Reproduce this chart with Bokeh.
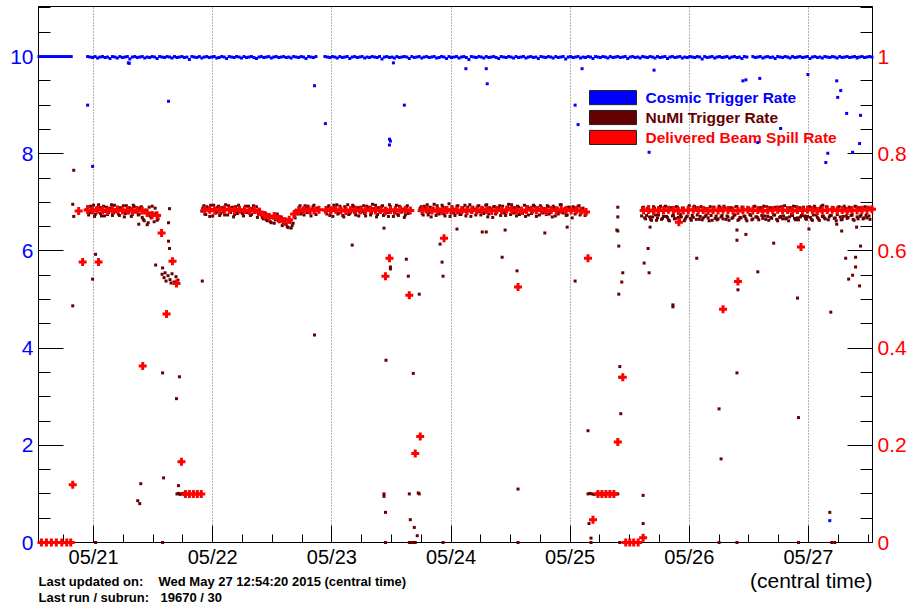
import pandas as pd
from bokeh.plotting import figure
from bokeh.layouts import column
from bokeh.models import (ColumnDataSource, Range1d, LinearAxis, FixedTicker,
                          DatetimeTickFormatter, Label, BoxAnnotation)
from bokeh.embed import file_html
from bokeh.resources import INLINE

DAY0 = pd.Timestamp("2015-05-20 00:00:00")
WINDOW_END = pd.Timestamp("2015-05-27 12:54:20")
WINDOW_START = WINDOW_END - pd.Timedelta(days=7)

# ---------------- Cosmic trigger rate [Hz] (left axis) ----------------
# continuous stretches, one reading every 0.5 h; start given in hours after 05/20 00:00
cosmic_step = 0.5
cosmic_starts = [13.0, 22.8, 70.6, 156.8]
cosmic_seg1 = [10.0, 10.0, 10.0, 10.0, 10.0, 10.0, 10.0, 10.0, 10.0, 10.0, 10.0, 10.0, 10.0, 10.0]
cosmic_seg2 = [
    10.0, 9.99, 9.98, 10.0, 9.97, 9.99, 10.0, 9.98, 9.99, 9.96,
    10.0, 9.99, 9.97, 10.0, 9.98, 9.99, 10.0, 9.95, 9.99, 10.0,
    9.98, 9.99, 10.0, 9.97, 9.99, 9.98, 10.0, 9.99, 9.96, 10.0,
    9.99, 9.98, 10.0, 9.99, 9.97, 10.0, 9.98, 9.99, 10.0, 9.98,
    9.99, 9.94, 10.0, 9.99, 9.98, 10.0, 9.97, 9.99, 10.0, 9.98,
    9.99, 10.0, 9.97, 9.98, 10.0, 9.99, 9.96, 10.0, 9.99, 9.98,
    10.0, 9.99, 9.97, 10.0, 9.98, 9.99, 10.0, 9.98, 9.96, 9.99,
    10.0, 9.98, 9.99, 10.0, 9.97, 9.99, 10.0, 9.98, 9.99, 10.0,
    9.98, 9.99, 9.97, 10.0, 9.99, 9.98, 10.0, 9.99, 9.96, 10.0,
    9.99, 9.98, 10.0]
cosmic_seg3 = [
    10.0, 9.99, 9.98, 10.0, 9.99, 9.97, 10.0, 9.98, 9.99, 10.0,
    9.96, 9.99, 10.0, 9.98, 9.99, 10.0, 9.97, 9.99, 9.98, 10.0,
    9.99, 9.98, 10.0, 9.95, 9.99, 10.0, 9.98, 9.99, 9.97, 10.0,
    9.98, 9.99, 10.0, 9.99, 9.96, 10.0, 9.98, 9.99, 10.0, 9.97,
    9.99, 10.0, 9.98, 9.99, 10.0, 9.97, 9.98, 10.0, 9.99, 9.96,
    10.0, 9.98, 9.99, 10.0, 9.97, 9.99, 10.0, 9.98, 9.94, 10.0,
    9.99, 9.98, 10.0, 9.99, 9.97, 10.0, 9.98, 9.99, 10.0, 9.98,
    9.96, 10.0, 9.99, 9.98, 10.0, 9.99, 9.97, 10.0, 9.98, 9.99,
    10.0, 9.97, 9.99, 10.0, 9.98, 9.99, 9.96, 10.0, 9.99, 9.98,
    10.0, 9.99, 9.97, 10.0, 9.98, 9.99, 10.0, 9.95, 9.99, 10.0,
    9.98, 9.99, 10.0, 9.97, 9.99, 9.98, 10.0, 9.99, 9.96, 10.0,
    9.99, 9.98, 10.0, 9.99, 9.97, 10.0, 9.98, 9.99, 10.0, 9.98,
    9.99, 10.0, 9.96, 9.99, 10.0, 9.98, 9.99, 9.97, 10.0, 9.99,
    9.98, 10.0, 9.99, 9.97, 10.0, 9.98, 9.99, 10.0, 9.96, 9.99,
    10.0, 9.98, 9.99, 10.0, 9.97, 9.99, 9.98, 10.0, 9.99, 9.98,
    10.0, 9.99, 9.95, 10.0, 9.98, 9.99, 10.0, 9.97, 9.99, 10.0,
    9.98, 9.99, 10.0, 9.97, 9.99, 10.0, 9.98, 9.99, 9.96, 10.0,
    9.99]
cosmic_seg4 = [
    10.0, 9.98, 9.99, 10.0, 9.97, 9.99, 10.0, 9.98, 9.99, 9.96,
    10.0, 9.99, 9.98, 10.0, 9.99, 9.97, 10.0, 9.98, 9.99, 10.0,
    9.98, 9.99, 10.0, 9.96, 9.99, 10.0, 9.98, 9.99, 9.97, 10.0,
    9.99, 9.98, 10.0, 9.99, 9.97, 10.0, 9.98, 9.99, 10.0, 9.98,
    9.99, 10.0, 9.97, 9.99, 10.0, 9.98, 9.99, 10.0, 9.99]
# isolated low readings (hour after 05/20 00:00, rate)
cosmic_out_h = [22.8, 23.8, 31.0, 31.2, 39.1, 68.5, 70.7, 84.4, 86.6, 83.6,
                83.8, 83.6, 99.0, 103.1, 103.3, 121.0, 121.6, 122.4, 135.9, 136.9,
                154.8, 155.4, 158.2, 167.9, 157.8, 162.4, 173.7, 173.9, 174.5, 175.7,
                178.5, 171.5, 171.9, 176.9, 178.3, 172.3]
cosmic_out_v = [9.0, 7.74, 9.87, 9.86, 9.08, 9.4, 8.62, 9.87, 9.0, 8.3,
                8.26, 8.18, 9.75, 9.75, 9.44, 9.0, 8.6, 9.75, 8.03, 9.72,
                9.5, 9.52, 9.55, 9.63, 8.23, 8.52, 9.5, 9.16, 9.3, 8.83,
                8.79, 7.82, 8.01, 8.03, 8.21, 0.45]

# ---------------- NuMI trigger rate [Hz] (right axis) ----------------
# two interleaved series of readings per stretch, 0.4 h apart each, offset by 0.2 h
numi_step = 0.4
numi_offset = 0.2
numi_starts = [22.6, 45.8, 70.6, 89.6, 134.4]
numi_seg1 = [
    0.685, 0.674, 0.692, 0.680, 0.671, 0.688, 0.695, 0.677, 0.683, 0.672,
    0.690, 0.679, 0.686, 0.673, 0.694, 0.681, 0.676, 0.689, 0.684, 0.670,
    0.693, 0.678, 0.687, 0.675, 0.691, 0.682, 0.674, 0.688, 0.669, 0.662,
    0.684, 0.658, 0.672, 0.692, 0.660, 0.678, 0.666]
numi_seg1b = [
    0.691, 0.679, 0.687, 0.694, 0.676, 0.683, 0.689, 0.672, 0.692, 0.681,
    0.675, 0.688, 0.695, 0.678, 0.684, 0.690, 0.673, 0.686, 0.693, 0.677,
    0.682, 0.689, 0.671, 0.694, 0.680, 0.687, 0.676, 0.691, 0.665, 0.684,
    0.654, 0.690, 0.668, 0.676, 0.688, 0.663]
numi_seg2 = [
    0.682, 0.693, 0.675, 0.688, 0.671, 0.685, 0.694, 0.678, 0.690, 0.673,
    0.686, 0.680, 0.695, 0.674, 0.689, 0.683, 0.670, 0.691, 0.677, 0.687,
    0.684, 0.672, 0.692, 0.679, 0.688, 0.675, 0.693, 0.681, 0.669, 0.686,
    0.674, 0.666, 0.678, 0.662, 0.671, 0.658, 0.668, 0.664, 0.676, 0.660,
    0.670, 0.655, 0.666, 0.650, 0.661, 0.647, 0.657, 0.668, 0.680, 0.690,
    0.676, 0.687, 0.693, 0.679, 0.684, 0.672, 0.691, 0.682, 0.688]
numi_seg2b = [
    0.688, 0.676, 0.691, 0.683, 0.694, 0.672, 0.687, 0.680, 0.692, 0.677,
    0.689, 0.674, 0.685, 0.693, 0.679, 0.690, 0.675, 0.686, 0.694, 0.681,
    0.677, 0.689, 0.683, 0.692, 0.673, 0.687, 0.680, 0.691, 0.676, 0.679,
    0.669, 0.673, 0.664, 0.675, 0.660, 0.669, 0.657, 0.672, 0.663, 0.667,
    0.652, 0.663, 0.655, 0.648, 0.659, 0.652, 0.671, 0.684, 0.676, 0.693,
    0.681, 0.674, 0.688, 0.692, 0.678, 0.686, 0.694, 0.675]
numi_seg3 = [
    0.684, 0.676, 0.693, 0.680, 0.671, 0.689, 0.695, 0.678, 0.686, 0.673,
    0.691, 0.682, 0.675, 0.688, 0.694, 0.679, 0.685, 0.672, 0.690, 0.681,
    0.677, 0.692, 0.687, 0.674, 0.696, 0.683, 0.670, 0.689, 0.680, 0.693,
    0.676, 0.686, 0.671, 0.691, 0.684, 0.678, 0.694, 0.673, 0.688, 0.682,
    0.669, 0.690, 0.677, 0.685]
numi_seg3b = [
    0.679, 0.690, 0.673, 0.687, 0.694, 0.681, 0.676, 0.692, 0.684, 0.670,
    0.688, 0.695, 0.677, 0.683, 0.691, 0.674, 0.689, 0.680, 0.686, 0.693,
    0.672, 0.684, 0.690, 0.678, 0.687, 0.694, 0.675, 0.682, 0.691, 0.673,
    0.688, 0.679, 0.695, 0.683, 0.671, 0.689, 0.676, 0.692, 0.680, 0.686,
    0.674, 0.693, 0.681]
numi_seg4 = [
    0.683, 0.691, 0.674, 0.687, 0.695, 0.679, 0.670, 0.688, 0.682, 0.693,
    0.676, 0.685, 0.690, 0.672, 0.684, 0.697, 0.678, 0.686, 0.673, 0.692,
    0.681, 0.675, 0.689, 0.694, 0.677, 0.683, 0.671, 0.690, 0.686, 0.679,
    0.693, 0.674, 0.688, 0.682, 0.695, 0.676, 0.684, 0.669, 0.691, 0.680,
    0.687, 0.673, 0.692, 0.678, 0.685, 0.696, 0.675, 0.683, 0.689, 0.672,
    0.690, 0.681, 0.677, 0.694, 0.686, 0.674, 0.688, 0.680, 0.692, 0.671,
    0.685, 0.693, 0.678, 0.687, 0.675, 0.691, 0.682, 0.670, 0.689, 0.684,
    0.676, 0.695, 0.680, 0.686, 0.673, 0.690, 0.683, 0.668, 0.688, 0.679,
    0.692, 0.674, 0.685, 0.681, 0.677]
numi_seg4b = [
    0.688, 0.677, 0.692, 0.681, 0.674, 0.690, 0.685, 0.696, 0.673, 0.687,
    0.680, 0.694, 0.676, 0.689, 0.683, 0.671, 0.691, 0.678, 0.686, 0.693,
    0.675, 0.688, 0.682, 0.672, 0.690, 0.695, 0.679, 0.684, 0.674, 0.692,
    0.681, 0.687, 0.677, 0.694, 0.670, 0.689, 0.683, 0.691, 0.676, 0.686,
    0.693, 0.679, 0.682, 0.673, 0.690, 0.687, 0.695, 0.678, 0.684, 0.692,
    0.675, 0.688, 0.681, 0.671, 0.691, 0.685, 0.677, 0.694, 0.683, 0.689,
    0.674, 0.690, 0.679, 0.686, 0.693, 0.676, 0.684, 0.692, 0.672, 0.688,
    0.681, 0.695, 0.678, 0.687, 0.674, 0.690, 0.683, 0.691, 0.676, 0.685,
    0.693, 0.680, 0.688, 0.673]
numi_seg5 = [
    0.672, 0.690, 0.666, 0.688, 0.670, 0.663, 0.691, 0.674, 0.668, 0.689,
    0.665, 0.671, 0.692, 0.669, 0.662, 0.687, 0.673, 0.667, 0.690, 0.664,
    0.670, 0.688, 0.666, 0.672, 0.693, 0.663, 0.669, 0.689, 0.674, 0.665,
    0.691, 0.668, 0.671, 0.687, 0.662, 0.673, 0.690, 0.667, 0.664, 0.692,
    0.670, 0.666, 0.688, 0.672, 0.663, 0.689, 0.669, 0.674, 0.691, 0.665,
    0.668, 0.690, 0.671, 0.662, 0.687, 0.673, 0.666, 0.692, 0.670, 0.664,
    0.689, 0.667, 0.672, 0.691, 0.663, 0.669, 0.688, 0.674, 0.665, 0.690,
    0.671, 0.666, 0.693, 0.668, 0.662, 0.689, 0.673, 0.667, 0.691, 0.664,
    0.670, 0.687, 0.672, 0.665, 0.690, 0.669, 0.663, 0.692, 0.674, 0.666,
    0.688, 0.671, 0.668, 0.691, 0.664, 0.673, 0.689, 0.667, 0.662, 0.690,
    0.670, 0.665, 0.692, 0.672, 0.669, 0.688, 0.674, 0.663, 0.691, 0.666,
    0.671, 0.689, 0.668, 0.673, 0.690, 0.665, 0.687]
numi_seg5b = [
    0.689, 0.668, 0.673, 0.691, 0.665, 0.670, 0.688, 0.663, 0.674, 0.692,
    0.667, 0.690, 0.671, 0.664, 0.689, 0.672, 0.666, 0.691, 0.669, 0.675,
    0.688, 0.662, 0.670, 0.690, 0.667, 0.673, 0.692, 0.665, 0.689, 0.671,
    0.664, 0.688, 0.674, 0.668, 0.691, 0.663, 0.690, 0.672, 0.666, 0.689,
    0.673, 0.692, 0.665, 0.670, 0.688, 0.667, 0.674, 0.691, 0.663, 0.669,
    0.690, 0.672, 0.666, 0.689, 0.675, 0.664, 0.691, 0.670, 0.668, 0.688,
    0.673, 0.692, 0.665, 0.671, 0.689, 0.667, 0.674, 0.690, 0.662, 0.669,
    0.691, 0.672, 0.666, 0.688, 0.670, 0.675, 0.692, 0.664, 0.668, 0.689,
    0.673, 0.690, 0.667, 0.671, 0.691, 0.665, 0.674, 0.688, 0.669, 0.663,
    0.692, 0.672, 0.666, 0.690, 0.670, 0.673, 0.689, 0.668, 0.675, 0.691,
    0.664, 0.671, 0.688, 0.667, 0.690, 0.673, 0.665, 0.692, 0.670, 0.689,
    0.674, 0.666, 0.691, 0.668, 0.672, 0.688]
numi_out_h = [
    20.0, 19.8, 20.0, 19.8, 33.1, 36.5, 37.9, 39.1, 39.3, 39.1, 39.3,
    24.4, 23.8, 45.9, 33.5, 32.9, 33.3, 37.9, 38.1, 40.7, 41.3, 41.1, 24.4, 37.9,
    37.8, 38.2, 38.6, 39.0, 39.4, 39.8, 40.2, 40.6, 41.0, 38.4, 39.6,
    40.8, 41.1, 41.4, 41.7, 42.0, 42.3, 42.6, 43.0,
    68.5, 82.5, 76.1, 83.8, 83.8, 87.0, 87.4, 89.6,
    93.8, 94.2, 94.4, 97.2, 102.3, 103.1, 106.3, 106.9, 109.3, 114.9, 119.4, 121.0,
    129.6, 129.8, 129.8, 129.6, 129.6, 129.4, 130.6, 130.4,
    136.1, 135.7, 134.9, 135.9, 145.5, 153.6, 153.6, 155.4, 153.8, 157.8, 161.0,
    165.8, 168.1, 170.9, 174.7, 173.7, 175.5, 177.5, 177.5, 176.9, 176.1, 178.3,
    178.5, 177.7,
    82.9, 88.4, 82.5, 82.5, 82.8, 82.8, 87.6, 87.8, 88.6, 89.2, 89.4, 89.6,
    87.6, 88.0, 88.4, 88.8, 94.4, 109.5, 109.5,
    123.6, 123.8, 124.2, 124.2, 130.0, 130.0, 130.2,
    123.6, 124.0, 124.4, 124.8, 125.2, 125.6, 126.0, 126.4, 126.8, 127.2, 127.6,
    128.0, 128.4, 128.8, 129.2, 129.6,
    140.7, 140.7, 134.7, 134.7, 172.5, 153.6, 150.0, 150.4, 166.0, 172.3,
    130.0, 150.0, 153.6, 166.0, 172.7, 173.3]
numi_out_v = [
    0.766, 0.696, 0.671, 0.487, 0.655, 0.571, 0.565, 0.620, 0.605, 0.658, 0.687,
    0.593, 0.542, 0.538, 0.121, 0.086, 0.080, 0.349, 0.133, 0.296, 0.341, 0.117, 0.0, 0.0,
    0.552, 0.545, 0.538, 0.549, 0.541, 0.553, 0.536, 0.547, 0.540, 0.555, 0.534,
    0.100, 0.101, 0.099, 0.100, 0.101, 0.099, 0.100, 0.100,
    0.427, 0.647, 0.612, 0.567, 0.563, 0.583, 0.548, 0.511,
    0.614, 0.577, 0.548, 0.645, 0.639, 0.639, 0.587, 0.643, 0.559, 0.637, 0.649, 0.538,
    0.641, 0.610, 0.511, 0.690, 0.670, 0.643, 0.555, 0.536,
    0.649, 0.605, 0.575, 0.555, 0.585, 0.643, 0.622, 0.634, 0.520, 0.557, 0.616,
    0.503, 0.645, 0.694, 0.641, 0.655, 0.585, 0.587, 0.567, 0.550, 0.542, 0.528,
    0.610, 0.649,
    0.375, 0.348, 0.100, 0.095, 0.062, 0.0, 0.100, 0.047, 0.031, 0.014, 0.102, 0.100,
    0.0, 0.0, 0.0, 0.0, 0.0, 0.110, 0.0,
    0.230, 0.039, 0.009, 0.0, 0.362, 0.340, 0.265,
    0.100, 0.101, 0.100, 0.099, 0.100, 0.101, 0.100, 0.100, 0.099, 0.100, 0.101,
    0.100, 0.100, 0.099, 0.100, 0.100,
    0.489, 0.485, 0.097, 0.039, 0.474, 0.349, 0.275, 0.172, 0.257, 0.062,
    0.0, 0.0, 0.0, 0.0, 0.0, 0.0]

# ---------------- Delivered beam spill rate [Hz] (right axis) ----------------
spill_step = 1.0
spill_starts = [22.8, 46.4, 70.8, 90.2, 134.8]
spill_seg1 = [0.684, 0.683, 0.685, 0.684, 0.682, 0.684, 0.685, 0.683, 0.684, 0.682,
              0.684, 0.683, 0.678, 0.674, 0.673]
spill_seg2 = [0.684, 0.685, 0.683, 0.684, 0.686, 0.684, 0.683, 0.685, 0.684, 0.682,
              0.684, 0.680, 0.674, 0.670, 0.672, 0.666, 0.661, 0.664, 0.676, 0.683,
              0.685, 0.684, 0.683, 0.685]
spill_seg3 = [0.684, 0.683, 0.685, 0.684, 0.682, 0.684, 0.685, 0.683, 0.684, 0.685,
              0.683, 0.684, 0.682, 0.684, 0.683, 0.685, 0.684, 0.683]
spill_seg4 = [0.684, 0.685, 0.683, 0.684, 0.682, 0.684, 0.685, 0.683, 0.684, 0.682,
              0.684, 0.683, 0.685, 0.684, 0.682, 0.684, 0.683, 0.685, 0.684, 0.683,
              0.682, 0.684, 0.685, 0.683, 0.684, 0.682, 0.684, 0.683, 0.685, 0.684,
              0.683, 0.684, 0.682, 0.680]
spill_seg5 = [0.683, 0.684, 0.682, 0.684, 0.683, 0.685, 0.684, 0.682, 0.683, 0.684,
              0.685, 0.683, 0.684, 0.682, 0.684, 0.683, 0.685, 0.684, 0.683, 0.682,
              0.684, 0.685, 0.683, 0.684, 0.682, 0.683, 0.684, 0.685, 0.683, 0.684,
              0.682, 0.684, 0.683, 0.685, 0.684, 0.682, 0.683, 0.684, 0.685, 0.683,
              0.684, 0.682, 0.684, 0.683, 0.685, 0.684, 0.686]
spill_out_h = [13.5, 14.5, 15.5, 16.5, 17.6, 18.6, 19.4,
               19.8, 21.8, 25.0, 21.0, 33.9, 37.7, 38.7, 39.9, 40.7, 41.7,
               42.5, 43.3, 44.1, 44.9, 45.7,
               94.6, 83.6, 82.8, 87.6, 109.5, 123.6, 141.9, 166.5, 153.8, 150.8,
               89.8, 88.8, 124.6, 129.6, 130.6,
               125.6, 126.4, 127.2, 128.0, 128.8,
               131.2, 132.0, 132.8, 133.7, 134.7]
spill_out_v = [0.0, 0.0, 0.0, 0.0, 0.0, 0.0, 0.0,
               0.119, 0.577, 0.577, 0.682, 0.363, 0.637, 0.470, 0.579, 0.533, 0.166,
               0.100, 0.100, 0.100, 0.100, 0.100,
               0.626, 0.585, 0.548, 0.509, 0.526, 0.585, 0.659, 0.608, 0.537, 0.480,
               0.218, 0.183, 0.047, 0.207, 0.340,
               0.100, 0.100, 0.100, 0.100, 0.100,
               0.0, 0.0, 0.0, 0.0, 0.010]

day_ticks = ["2015-05-21", "2015-05-22", "2015-05-23", "2015-05-24",
             "2015-05-25", "2015-05-26", "2015-05-27"]
left_ticks = [0, 2, 4, 6, 8, 10]
right_ticks = [0, 0.2, 0.4, 0.6, 0.8, 1.0]
legend_labels = ["Cosmic Trigger Rate", "NuMI Trigger Rate", "Delivered Beam Spill Rate"]
last_updated = "Wed May 27 12:54:20 2015 (central time)"
last_run = "19670 / 30"


def readings(starts, step, segments):
    hrs, vals = [], []
    for s, seg in zip(starts, segments):
        hrs += [s + i * step for i in range(len(seg))]
        vals += list(seg)
    return hrs, vals


def to_source(hrs, vals):
    times = [DAY0 + pd.Timedelta(hours=h) for h in hrs]
    return ColumnDataSource(dict(t=times, v=vals))


h1, v1 = readings(cosmic_starts, cosmic_step, [cosmic_seg1, cosmic_seg2, cosmic_seg3, cosmic_seg4])
cosmic_src = to_source(h1 + cosmic_out_h, v1 + cosmic_out_v)

h2a, v2a = readings(numi_starts, numi_step, [numi_seg1, numi_seg2, numi_seg3, numi_seg4, numi_seg5])
h2b, v2b = readings([s + numi_offset for s in numi_starts], numi_step,
                    [numi_seg1b, numi_seg2b, numi_seg3b, numi_seg4b, numi_seg5b])
numi_src = to_source(h2a + h2b + numi_out_h, v2a + v2b + numi_out_v)

h3, v3 = readings(spill_starts, spill_step, [spill_seg1, spill_seg2, spill_seg3, spill_seg4, spill_seg5])
spill_src = to_source(h3 + spill_out_h, v3 + spill_out_v)

FONT = "Liberation Sans"
BLUE, DARK, RED = "#0000ff", "#660000", "#ff0000"
BORDER_L, BORDER_R = 38, 41

p = figure(width=913, height=570, x_axis_type="datetime",
           x_range=Range1d(WINDOW_START.to_pydatetime(), WINDOW_END.to_pydatetime()),
           y_range=Range1d(0, 11.03),
           output_backend="svg", toolbar_location=None,
           min_border_left=BORDER_L, min_border_right=BORDER_R,
           min_border_top=6, min_border_bottom=27)
p.extra_y_ranges = {"right": Range1d(0, 1.103)}
p.background_fill_color = "white"
p.border_fill_color = "white"
p.outline_line_color = "black"
p.outline_line_width = 1

# x axis: one label per day, minor ticks every six hours
day_ms = [pd.Timestamp(d).value // 10**6 for d in day_ticks]
six_h = [(pd.Timestamp("2015-05-20 18:00") + pd.Timedelta(hours=6 * k)).value // 10**6
         for k in range(28)]
xa = p.xaxis[0]
xa.ticker = FixedTicker(ticks=day_ms, minor_ticks=six_h)
fmt = "%m/%d"
xa.formatter = DatetimeTickFormatter(microseconds=fmt, milliseconds=fmt, seconds=fmt,
                                     minsec=fmt, minutes=fmt, hourmin=fmt, hours=fmt,
                                     days=fmt, months=fmt, years=fmt)
xa.major_tick_in = 17
xa.major_tick_out = 0
xa.minor_tick_in = 8
xa.minor_tick_out = 0
xa.major_label_text_font = FONT
xa.major_label_text_font_size = "20px"
xa.major_label_text_color = "black"
xa.major_label_standoff = 3
xa.axis_line_color = "black"
xa.major_tick_line_color = "black"
xa.minor_tick_line_color = "black"

ya = p.yaxis[0]
ya.ticker = FixedTicker(ticks=left_ticks, minor_ticks=[k * 0.5 for k in range(23)])
ya.major_tick_in = 25
ya.major_tick_out = 0
ya.minor_tick_in = 12
ya.minor_tick_out = 0
ya.major_label_text_color = BLUE
ya.major_label_text_font = FONT
ya.major_label_text_font_size = "21px"
ya.major_label_standoff = 5
ya.axis_line_color = "black"
ya.major_tick_line_color = "black"
ya.minor_tick_line_color = "black"

ra = LinearAxis(y_range_name="right",
                ticker=FixedTicker(ticks=right_ticks, minor_ticks=[k * 0.05 for k in range(23)]))
ra.major_tick_in = 25
ra.major_tick_out = 0
ra.minor_tick_in = 12
ra.minor_tick_out = 0
ra.major_label_text_color = RED
ra.major_label_text_font = FONT
ra.major_label_text_font_size = "21px"
ra.major_label_standoff = 5
ra.axis_line_color = "black"
ra.major_tick_line_color = "black"
ra.minor_tick_line_color = "black"
p.add_layout(ra, "right")

p.xgrid.grid_line_color = "#666666"
p.xgrid.grid_line_dash = "1 2"
p.xgrid.grid_line_width = 1
p.ygrid.visible = False

# data, drawn above the axis ticks
p.scatter("t", "v", source=cosmic_src, marker="square", size=3,
          fill_color=BLUE, line_color=None, level="overlay")
p.scatter("t", "v", source=numi_src, marker="square", size=3,
          fill_color=DARK, line_color=None, y_range_name="right", level="overlay")
p.scatter("t", "v", source=spill_src, marker="plus", size=8,
          fill_color=RED, line_color=None, y_range_name="right", level="overlay")

# annotation placement helpers: fraction of the time window, value on the left axis
t0_ms = WINDOW_START.value // 10**6
span_ms = (WINDOW_END - WINDOW_START).value // 10**6


def wx(frac):
    return t0_ms + frac * span_ms


# legend: filled boxes with coloured captions
legend_rows = [(9.30, 9.01, 9.16), (8.89, 8.60, 8.75), (8.48, 8.19, 8.34)]
for text, color, (top, bottom, mid) in zip(legend_labels, [BLUE, DARK, RED], legend_rows):
    p.add_layout(BoxAnnotation(left=wx(0.6607), right=wx(0.7170), top=top, bottom=bottom,
                               fill_color=color, fill_alpha=1.0,
                               line_color="#202020", line_width=1, line_alpha=1.0))
    p.add_layout(Label(x=wx(0.7278), y=mid, text=text, text_color=color,
                       text_font=FONT, text_font_style="bold", text_font_size="15.5px",
                       text_baseline="middle"))

# footer strip below the chart; its frame lines up with the chart frame,
# so x is measured in page pixels and y in pixels from the strip's top edge
foot = figure(width=913, height=40, x_range=Range1d(BORDER_L, 913 - BORDER_R),
              y_range=Range1d(40, 0), x_axis_type=None, y_axis_type=None,
              output_backend="svg", toolbar_location=None,
              min_border_left=BORDER_L, min_border_right=BORDER_R,
              min_border_top=0, min_border_bottom=0, outline_line_color=None)
foot.grid.visible = False


def footer(x, y, text, size="13px", style="bold", align="left"):
    foot.add_layout(Label(x=x, y=y, text=text, text_font=FONT, text_font_size=size,
                          text_font_style=style, text_color="black", text_align=align,
                          text_baseline="alphabetic"))


footer(38, 11, "Last updated on:")
footer(158, 11, last_updated)
footer(38, 27, "Last run / subrun:")
footer(160, 27, last_run)
footer(872, 10, "(central time)", size="21px", style="normal", align="right")

layout = column(p, foot, spacing=0)
open("out.html", "w").write(file_html(layout, INLINE))
